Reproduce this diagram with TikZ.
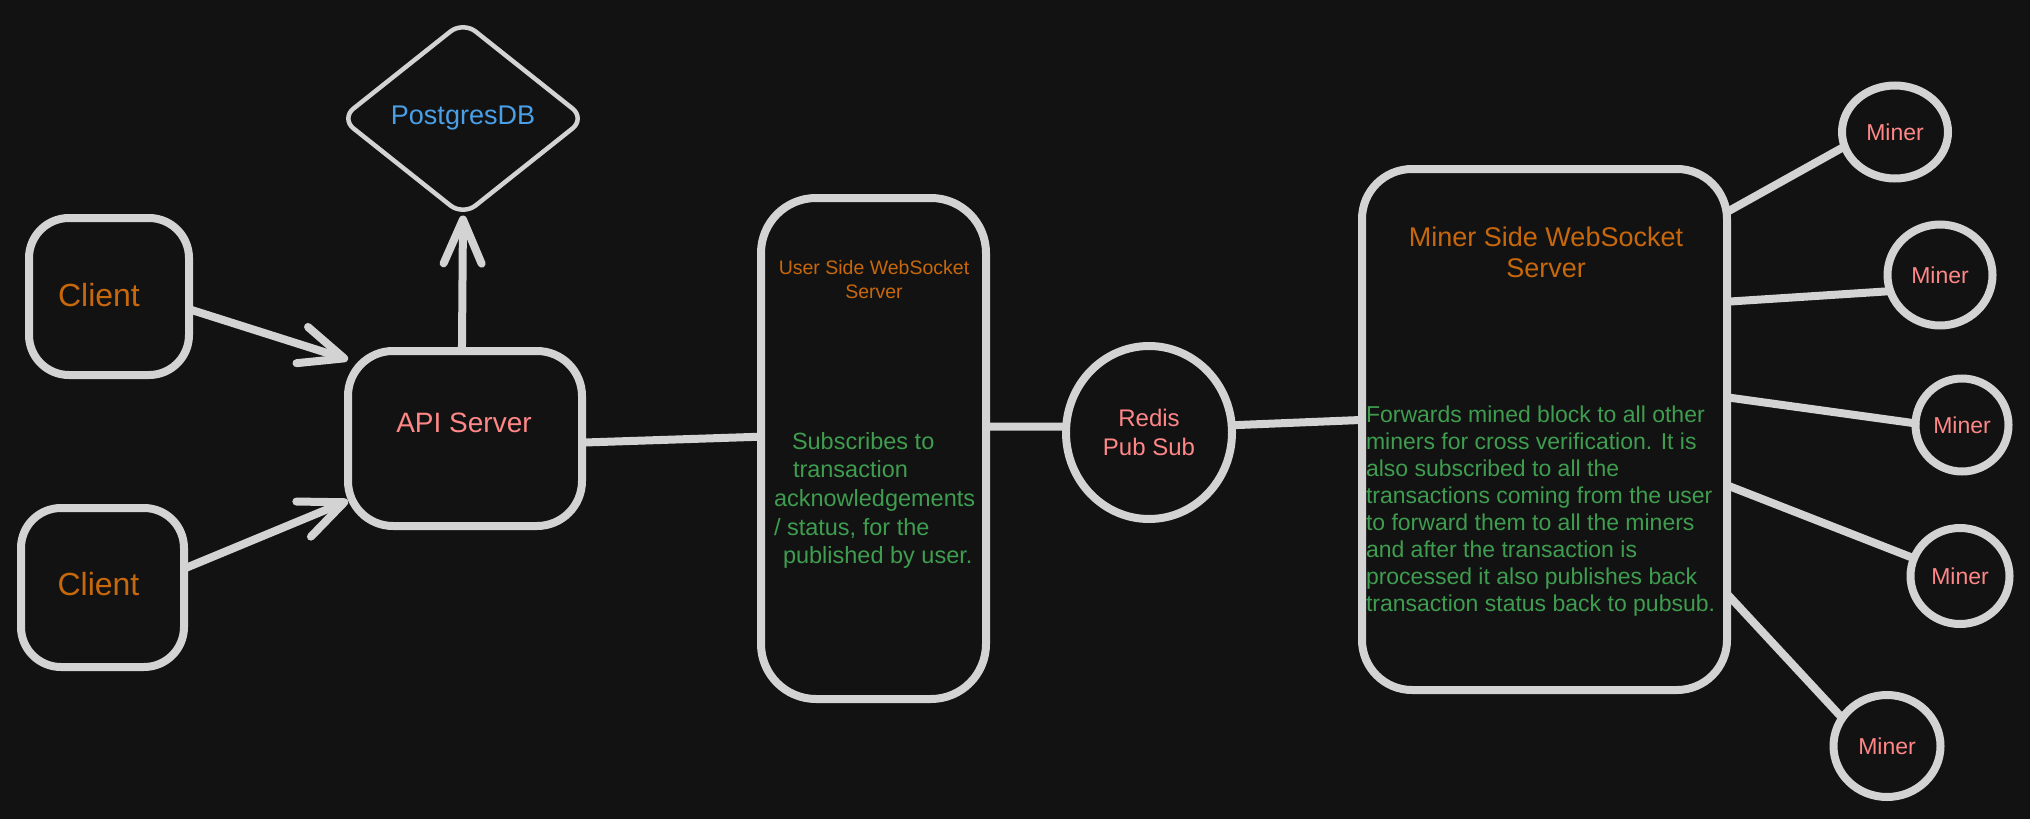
\documentclass[tikz,border=0pt]{standalone}
\usepackage{fontspec}
\setmainfont{Liberation Sans}
\usetikzlibrary{shapes.geometric,arrows.meta}
\definecolor{bg}{HTML}{121212}
\definecolor{strk}{HTML}{D3D3D3}
\definecolor{orng}{HTML}{C8680C}
\definecolor{salmon}{HTML}{FF8787}
\definecolor{dbblue}{HTML}{4A9FE6}
\definecolor{grn}{HTML}{3F9D4F}
\newcommand\myfs[2]{\fontsize{#1}{#2}\selectfont}
\begin{document}
\begin{tikzpicture}[x=1pt,y=-1pt,
  box/.style={draw=strk, line width=8pt, rounded corners=#1, inner sep=0pt, outer sep=0pt, fill=bg},
  box/.default=40pt,
  minercirc/.style={draw=strk, line width=8pt, ellipse, inner sep=0pt, outer sep=0pt, fill=bg,
    text=salmon, font=\myfs{23}{27}},
  conn/.style={draw=strk, line width=8pt, line cap=round},
  arr/.style={conn, -{Straight Barb[length=44pt,width=38pt,round]}},
  txt/.style={inner sep=0pt, outer sep=0pt}
]
\fill[bg] (0,0) rectangle (2030,819);
\useasboundingbox (0,0) rectangle (2030,819);

% clients
\node[box=40pt, minimum width=160pt, minimum height=157pt] (c1) at (109,296.5) {};
\node[txt, text=orng, font=\myfs{32}{36}] (c1t) at (99,295) {Client};
\node[box=40pt, minimum width=163pt, minimum height=159pt] (c2) at (102.5,587.5) {};
\node[txt, text=orng, font=\myfs{32}{36}] (c2t) at (98.5,584) {Client};

% API server
\node[box=45pt, minimum width=234pt, minimum height=175pt] (api) at (465,438.5) {};
\node[txt, text=salmon, font=\myfs{28}{32}] (apit) at (464,423) {API Server};

% Postgres
\node[draw=strk, line width=4.5pt, diamond, minimum width=244pt, minimum height=194pt,
  inner sep=0pt, outer sep=0pt, rounded corners=16pt, fill=bg,
  text=dbblue, font=\myfs{27}{31}] (db) at (463,118.5) {PostgresDB};

% User side websocket server
\node[box=55pt, minimum width=225pt, minimum height=501pt] (uws) at (873.5,448.5) {};
\node[txt, text=orng, font=\myfs{19.5}{24}, align=center] (uwst) at (874,280) {User Side WebSocket\\Server};
\node[txt, text=grn, font=\myfs{23.5}{28.7}, align=left, anchor=west] (uwsd) at (774,500.5)
  {\hspace*{18pt}Subscribes to\\ \hspace*{19pt}transaction\\acknowledgements\\/ status, for the\\ \hspace*{9pt}published by user.};

% Redis
\node[draw=strk, line width=8pt, ellipse, minimum width=166pt, minimum height=173pt,
  inner sep=0pt, outer sep=0pt, fill=bg, text=salmon, font=\myfs{24}{29}, align=center]
  (redis) at (1149,432.5) {Redis\\Pub Sub};

% Miner side websocket server
\node[box=50pt, minimum width=365pt, minimum height=521pt] (mws) at (1544.5,429.5) {};
\node[txt, text=orng, font=\myfs{27}{31}, align=center] (mwst) at (1546,252) {Miner Side WebSocket\\Server};
\node[txt, text=grn, font=\myfs{23}{26.9}, align=left, anchor=west] (mwsd) at (1366,511)
  {Forwards mined block to all other\\
   miners for cross verification. It is\\
   also subscribed to all the\\
   transactions coming from the user\\
   to forward them to all the miners\\
   and after the transaction is\\
   processed it also publishes back\\
   transaction status back to pubsub.};

% miners
\node[minercirc, minimum width=106pt, minimum height=93pt] (m1) at (1895,132) {Miner};
\node[minercirc, minimum width=105pt, minimum height=101pt] (m2) at (1940,275) {Miner};
\node[minercirc, minimum width=93pt, minimum height=93pt] (m3) at (1962,425) {Miner};
\node[minercirc, minimum width=99pt, minimum height=96pt] (m4) at (1960,576) {Miner};
\node[minercirc, minimum width=107pt, minimum height=102pt] (m5) at (1887,746) {Miner};

% connectors
\draw[arr] (c1.-9) -- (api.146);
\draw[arr] (c2.13) -- (api.208);
\draw[arr] (api.92) -- (db.south);
\draw[conn] (api.-2) -- (uws.174);
\draw[conn] (uws.11) -- (redis.176);
\draw[conn] (redis.5) -- (mws.177);
\draw[conn] (mws.50) -- (m1.196);
\draw[conn] (mws.35) -- (m2.198);
\draw[conn] (mws.10) -- (m3.178);
\draw[conn] (mws.-17) -- (m4.159);
\draw[conn] (mws.-42) -- (m5.148);
\end{tikzpicture}
\end{document}
